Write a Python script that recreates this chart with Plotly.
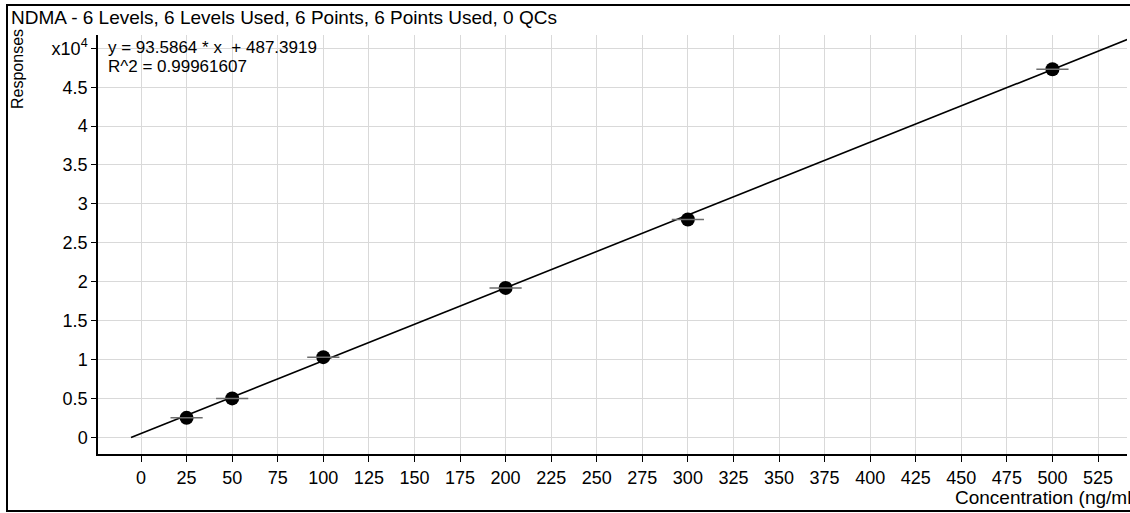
import plotly.graph_objects as go

# Data
conc = [25, 50, 100, 200, 300, 500]                 # ng/ml
resp = [0.25, 0.50, 1.03, 1.92, 2.80, 4.73]         # responses x10^4
slope = 93.5864
intercept = 487.3919
fit_x = [-5.5, 541]
fit_y = [(slope * x + intercept) / 1e4 for x in fit_x]

x_ticks = list(range(0, 526, 25))
y_ticks = [0, 0.5, 1, 1.5, 2, 2.5, 3, 3.5, 4, 4.5, 5]
y_ticktext = ["0", "0.5", "1", "1.5", "2", "2.5", "3", "3.5", "4", "4.5", "x10<sup>4</sup>"]

title_text = "NDMA - 6 Levels, 6 Levels Used, 6 Points, 6 Points Used, 0 QCs"
eq_text = "y = 93.5864 * x  + 487.3919"
r2_text = "R^2 = 0.99961607"
x_title = "Concentration (ng/ml"
y_title = "Responses"

FONT = "Liberation Sans, Arial, sans-serif"

W, H = 1130, 513
L, R, T, B = 98, 3, 35, 59
pw = W - L - R
ph = H - T - B

def px(x):
    return (x - L) / pw

def py(y):
    return (H - B - y) / ph

fig = go.Figure()
fig.add_trace(go.Scatter(x=fit_x, y=fit_y, mode="lines",
                         line=dict(color="black", width=1.6), hoverinfo="skip"))
fig.add_trace(go.Scatter(x=conc, y=resp, mode="markers",
                         marker=dict(symbol="circle", size=14, color="black")))
fig.add_trace(go.Scatter(x=conc, y=resp, mode="markers",
                         marker=dict(symbol="line-ew", size=23,
                                     line=dict(color="#6e6e6e", width=1.5))))

fig.update_layout(
    width=W, height=H,
    margin=dict(l=L, r=R, t=T, b=B),
    paper_bgcolor="white", plot_bgcolor="white",
    showlegend=False,
    font=dict(family=FONT, size=18, color="black"),
    xaxis=dict(range=[-23.6, 540.9], tickvals=x_ticks, ticks="outside", ticklen=6,
               tickcolor="black", showline=True, linecolor="black", linewidth=2,
               showgrid=True, gridcolor="#d9d9d9", gridwidth=1, zeroline=False,
               tickfont=dict(size=18)),
    yaxis=dict(range=[-0.215, 5.171], tickvals=y_ticks, ticktext=y_ticktext,
               ticks="outside", ticklen=5, tickcolor="black", showline=True,
               linecolor="black", linewidth=1.5, showgrid=True, gridcolor="#d9d9d9",
               gridwidth=1, zeroline=False, tickfont=dict(size=18)),
    annotations=[
        dict(text=title_text, x=px(9), y=py(17), xref="paper", yref="paper",
             xanchor="left", yanchor="middle", showarrow=False, font=dict(size=19)),
        dict(text=y_title, x=px(17), y=py(27), xref="paper", yref="paper",
             xanchor="center", yanchor="top", textangle=-90, showarrow=False,
             font=dict(size=16)),
        dict(text=eq_text, x=px(106), y=py(47), xref="paper", yref="paper",
             xanchor="left", yanchor="middle", showarrow=False, font=dict(size=17)),
        dict(text=r2_text, x=px(106), y=py(66), xref="paper", yref="paper",
             xanchor="left", yanchor="middle", showarrow=False, font=dict(size=17)),
        dict(text=x_title, x=px(953), y=py(497), xref="paper", yref="paper",
             xanchor="left", yanchor="middle", showarrow=False, font=dict(size=19)),
    ],
    shapes=[
        dict(type="rect", xref="paper", yref="paper", x0=px(7), x1=px(1140),
             y0=py(511), y1=py(5), line=dict(color="black", width=2)),
    ],
)

fig.write_html("out.html")
